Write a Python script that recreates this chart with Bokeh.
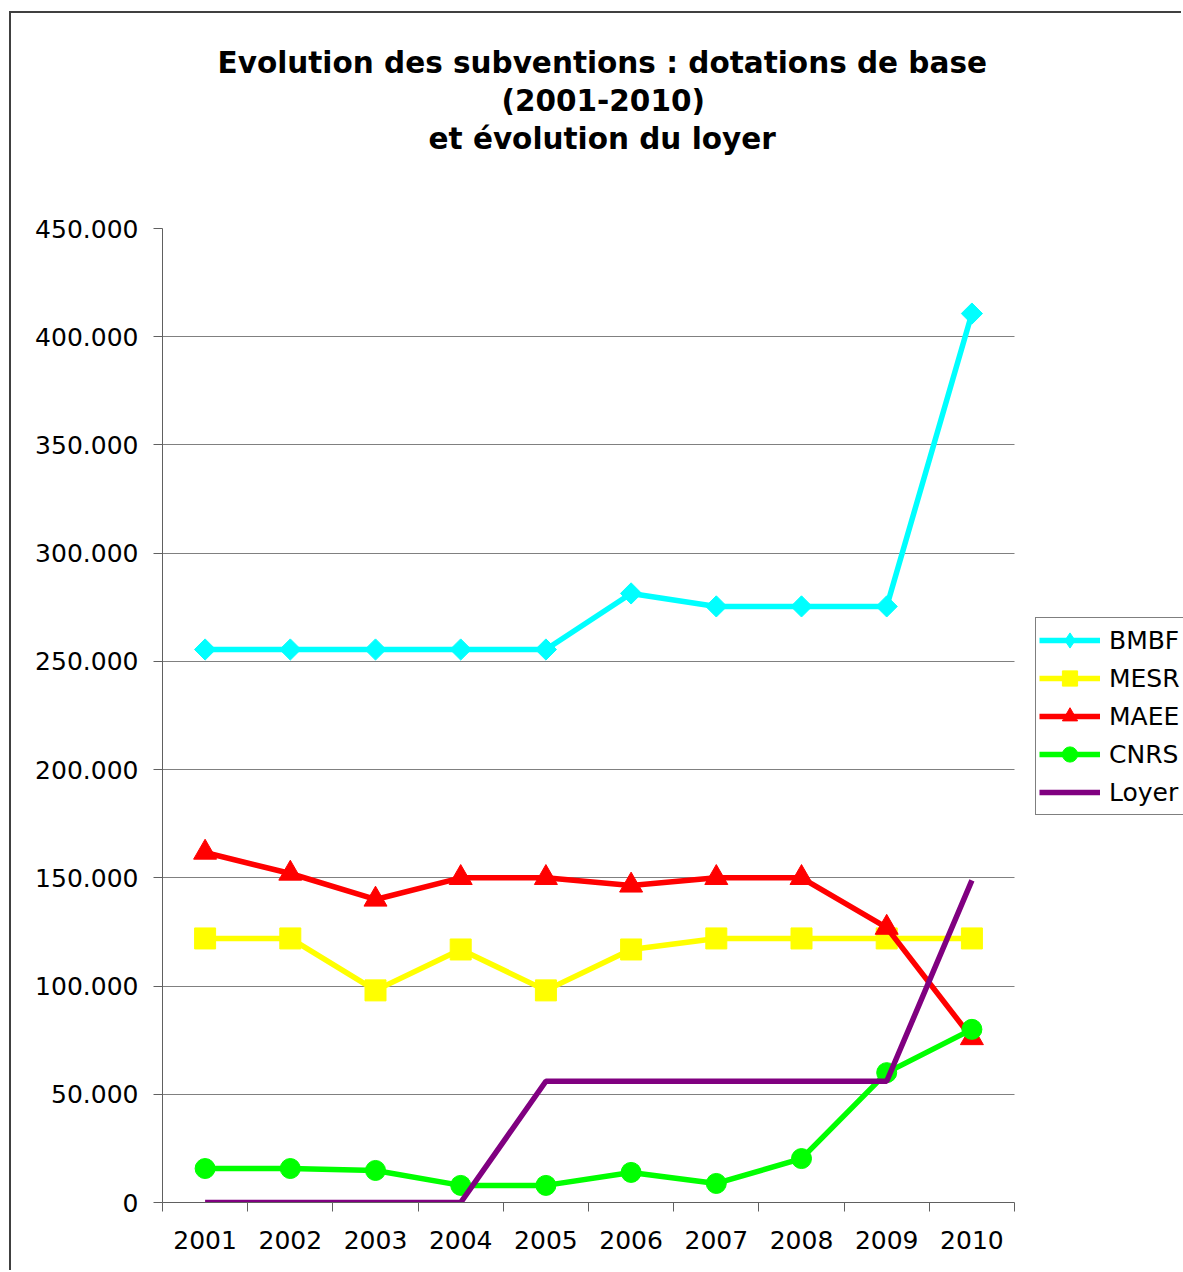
from bokeh.plotting import figure
from bokeh.models import (FixedTicker, Legend, LegendItem, Range1d, Title)
from bokeh.embed import file_html
from bokeh.resources import INLINE
import math

years = [2001, 2002, 2003, 2004, 2005, 2006, 2007, 2008, 2009, 2010]
bmbf = [255500, 255500, 255500, 255500, 255500, 281400, 275400, 275400, 275400, 410700]
mesr = [122000, 122000, 98000, 116900, 98000, 116900, 122000, 122000, 122000, 122000]
maee = [161700, 152000, 140000, 150000, 150000, 146500, 150000, 150000, 127000, 76000]
cnrs = [15700, 15700, 14800, 7900, 7900, 13900, 8800, 20300, 60000, 80000]
loyer = [0, 0, 0, 0, 56000, 56000, 56000, 56000, 56000, 148800]

y_ticks = [0, 50000, 100000, 150000, 200000, 250000, 300000, 350000, 400000, 450000]
y_tick_labels = ["0", "50.000", "100.000", "150.000", "200.000", "250.000",
                 "300.000", "350.000", "400.000", "450.000"]

title_lines = ["Evolution des subventions : dotations de base",
               "(2001-2010)",
               "et évolution du loyer"]

FONT = "DejaVu Sans"

x_lo = years[0] - 0.5
x_hi = years[-1] + 0.5
# frame is 1021 px wide; the category area covers 852 px of it
x_end = x_lo + (x_hi - x_lo) * 1021 / 852

p = figure(width=1172, height=1259, output_backend="svg", toolbar_location=None,
           x_range=Range1d(x_lo, x_end), y_range=Range1d(0, 450000),
           min_border_left=151, min_border_right=0, min_border_top=215,
           min_border_bottom=70)
p.styles = {"border-left": "2px solid #404040", "border-top": "2px solid #404040",
            "margin-left": "9px", "margin-top": "11px"}
p.background_fill_color = "white"
p.border_fill_color = "white"
p.outline_line_color = None

# spacer between title block and plot area, then title lines outward
p.add_layout(Title(text=" ", text_font_size="1px", standoff=69), "above")
title_offsets = [55, 339, 266]
for txt, off in reversed(list(zip(title_lines, title_offsets))):
    t = Title(text=txt, align="left", offset=off, text_font=FONT,
              text_font_style="bold", text_font_size="29.5px",
              text_color="black", standoff=2)
    p.add_layout(t, "above")

# grids
p.xgrid.grid_line_color = None
p.ygrid.grid_line_color = "#808080"
p.ygrid.grid_line_width = 1
p.ygrid.ticker = FixedTicker(ticks=y_ticks)
try:
    p.ygrid.cross_bounds = (x_lo, x_hi)
except Exception:
    p.ygrid.grid_line_color = None
    p.segment(x0=[x_lo] * len(y_ticks), x1=[x_hi] * len(y_ticks),
              y0=y_ticks, y1=y_ticks, line_color="#808080", line_width=1)

# y axis
p.yaxis.ticker = FixedTicker(ticks=y_ticks)
p.yaxis.major_label_overrides = {t: l for t, l in zip(y_ticks, y_tick_labels)}
p.yaxis.axis_line_color = "#606060"
p.yaxis.major_tick_line_color = "#606060"
p.yaxis.major_tick_out = 9
p.yaxis.major_tick_in = 0
p.yaxis.minor_tick_line_color = None
p.yaxis.major_label_standoff = 15
p.yaxis.major_label_text_font = FONT
p.yaxis.major_label_text_font_size = "25px"
p.yaxis.major_label_text_color = "black"

# x axis
bounds = [y - 0.5 for y in years] + [years[-1] + 0.5]
p.xaxis.ticker = FixedTicker(ticks=years, minor_ticks=bounds)
p.xaxis.bounds = (x_lo, x_hi)
p.xaxis.major_label_overrides = {y: str(y) for y in years}
p.xaxis.axis_line_color = "#606060"
p.xaxis.major_tick_line_color = None
p.xaxis.major_tick_out = 0
p.xaxis.major_tick_in = 0
p.xaxis.minor_tick_line_color = "#606060"
p.xaxis.minor_tick_out = 9
p.xaxis.minor_tick_in = 0
p.xaxis.major_label_standoff = 19
p.xaxis.major_label_text_font = FONT
p.xaxis.major_label_text_font_size = "25px"
p.xaxis.major_label_text_color = "black"

LW = 5.5
items = []

l1 = p.line(years, bmbf, line_color="#00FFFF", line_width=LW)
m1 = p.scatter(years, bmbf, marker="square", size=15, angle=math.pi / 4,
               fill_color="#00FFFF", line_color="#00FFFF")
# legend-only diamond glyph (legend glyphs ignore marker angle); its single
# point has no y value, so nothing is drawn in the plot area
d1 = p.scatter(x=years[:1], y=[float("nan")], marker="diamond", size=15,
               fill_color="#00FFFF", line_color="#00FFFF")
items.append(LegendItem(label="BMBF", renderers=[l1, d1]))

l2 = p.line(years, mesr, line_color="#FFFF00", line_width=LW)
m2 = p.scatter(years, mesr, marker="square", size=21,
               fill_color="#FFFF00", line_color="#FFFF00")
items.append(LegendItem(label="MESR", renderers=[l2, m2]))

l3 = p.line(years, maee, line_color="#FF0000", line_width=LW)
m3 = p.scatter(years, maee, marker="triangle", size=23,
               fill_color="#FF0000", line_color="#FF0000")
items.append(LegendItem(label="MAEE", renderers=[l3, m3]))

l4 = p.line(years, cnrs, line_color="#00FF00", line_width=LW)
m4 = p.scatter(years, cnrs, marker="circle", size=20,
               fill_color="#00FF00", line_color="#00FF00")
items.append(LegendItem(label="CNRS", renderers=[l4, m4]))

l5 = p.line(years, loyer, line_color="#800080", line_width=LW)
items.append(LegendItem(label="Loyer", renderers=[l5]))

legend = Legend(items=items, location=(873, 387))
legend.label_text_font = FONT
legend.label_text_font_size = "25px"
legend.label_text_color = "black"
legend.border_line_color = "black"
legend.border_line_width = 1
legend.background_fill_color = "white"
legend.background_fill_alpha = 1
legend.glyph_width = 61
legend.glyph_height = 38
legend.label_height = 38
legend.label_standoff = 9
legend.spacing = 0
legend.padding = 3
legend.margin = 0
p.add_layout(legend, "center")

open("out.html", "w").write(file_html(p, INLINE))
